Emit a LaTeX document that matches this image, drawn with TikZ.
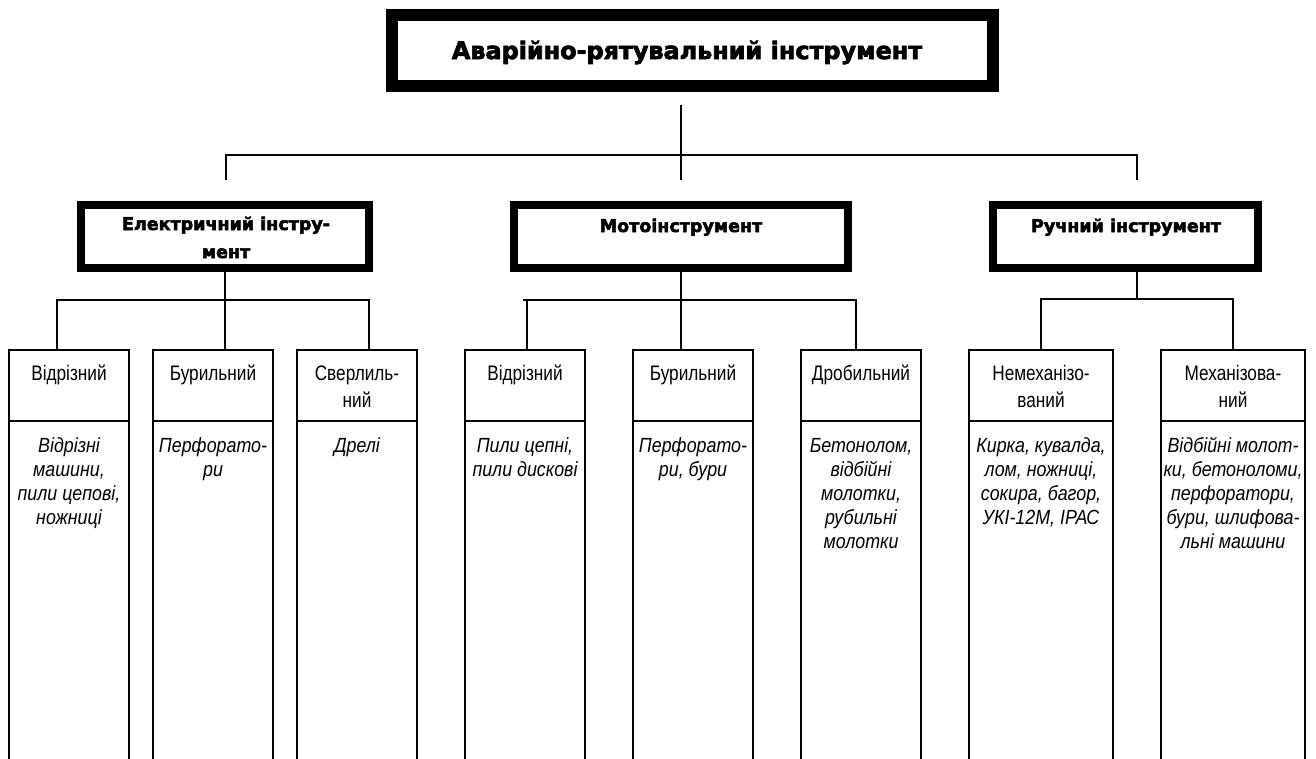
\documentclass[tikz,border=0pt]{standalone}
\usepackage{fontspec}
\setmainfont{Liberation Sans}
\newfontfamily\blk{DejaVu Sans Bold}[FakeBold=3]
\newfontfamily\nrw{Liberation Sans}[FakeStretch=0.82]
\newfontfamily\nrwi{Liberation Sans}[FakeStretch=0.87]
\begin{document}
\begin{tikzpicture}[x=1pt,y=-1pt,
  bigbox/.style={draw,line width=12pt,inner sep=0pt,minimum width=601pt,minimum height=71pt},
  midbox/.style={draw,line width=8pt,inner sep=0pt,minimum height=63pt},
  colhead/.style={draw,line width=1.6pt,inner sep=0pt,minimum height=71pt},
  colbody/.style={draw,line width=1.6pt,inner sep=0pt,minimum height=400pt},
  link/.style={line width=1.8pt},
  toptext/.style={font=\blk\fontsize{23.9}{25}\selectfont,anchor=base,inner sep=0pt},
  midtext/.style={font=\blk\fontsize{17.5}{28}\selectfont,align=center,anchor=base,inner sep=0pt},
  headtext/.style={font=\nrw\fontsize{21}{27}\selectfont,align=center,anchor=base,inner sep=0pt},
  bodytext/.style={font=\nrwi\itshape\fontsize{20.5}{24}\selectfont,align=center,anchor=base,inner sep=0pt}]
\useasboundingbox (0,0) rectangle (1316,758);
\fill[white] (0,0) rectangle (1316,758);
% top
\node[bigbox] (top) at (692.5,50.5) {};
\node[toptext] (toptxt) at (687,59) {Аварійно-рятувальний інструмент};
% middle boxes
\node[midbox,minimum width=288pt] (el) at (225,236.5) {};
\node[midtext] (elt) at (226,258) {Електричний інстру-\\мент};
\node[midbox,minimum width=334pt] (mo) at (681,236.5) {};
\node[midtext] (mot) at (681,232) {Мотоінструмент};
\node[midbox,minimum width=265pt] (ru) at (1125.5,236.5) {};
\node[midtext] (rut) at (1126,232) {Ручний інструмент};
% columns: electric
\node[colhead,minimum width=120pt] (e1h) at (69,385.5) {};
\node[colbody,minimum width=120pt] (e1b) at (69,621) {};
\node[headtext] (e1ht) at (69,380.5) {Відрізний};
\node[bodytext] (e1bt) at (69,524) {Відрізні\\машини,\\пили цепові,\\ножниці};
\node[colhead,minimum width=120pt] (e2h) at (213,385.5) {};
\node[colbody,minimum width=120pt] (e2b) at (213,621) {};
\node[headtext] (e2ht) at (213,380.5) {Бурильний};
\node[bodytext] (e2bt) at (213,476) {Перфорато-\\ри};
\node[colhead,minimum width=120pt] (e3h) at (357,385.5) {};
\node[colbody,minimum width=120pt] (e3b) at (357,621) {};
\node[headtext] (e3ht) at (357,407.5) {Сверлиль-\\ний};
\node[bodytext] (e3bt) at (357,452) {Дрелі};
% columns: moto
\node[colhead,minimum width=120pt] (m1h) at (525,385.5) {};
\node[colbody,minimum width=120pt] (m1b) at (525,621) {};
\node[headtext] (m1ht) at (525,380.5) {Відрізний};
\node[bodytext] (m1bt) at (525,476) {Пили цепні,\\пили дискові};
\node[colhead,minimum width=120pt] (m2h) at (693,385.5) {};
\node[colbody,minimum width=120pt] (m2b) at (693,621) {};
\node[headtext] (m2ht) at (693,380.5) {Бурильний};
\node[bodytext] (m2bt) at (693,476) {Перфорато-\\ри, бури};
\node[colhead,minimum width=120pt] (m3h) at (861,385.5) {};
\node[colbody,minimum width=120pt] (m3b) at (861,621) {};
\node[headtext] (m3ht) at (861,380.5) {Дробильний};
\node[bodytext] (m3bt) at (861,548) {Бетонолом,\\відбійні\\молотки,\\рубильні\\молотки};
% columns: hand
\node[colhead,minimum width=144pt] (r1h) at (1041,385.5) {};
\node[colbody,minimum width=144pt] (r1b) at (1041,621) {};
\node[headtext] (r1ht) at (1041,407.5) {Немеханізо-\\ваний};
\node[bodytext] (r1bt) at (1041,524) {Кирка, кувалда,\\лом, ножниці,\\сокира, багор,\\УКІ-12М, ІРАС};
\node[colhead,minimum width=144pt] (r2h) at (1233,385.5) {};
\node[colbody,minimum width=144pt] (r2b) at (1233,621) {};
\node[headtext] (r2ht) at (1233,407.5) {Механізова-\\ний};
\node[bodytext] (r2bt) at (1233,548) {Відбійні молот-\\ки, бетоноломи,\\перфоратори,\\бури, шлифова-\\льні машини};
% connectors: top level
\coordinate (t1) at (681,105);
\coordinate (t2) at (681,180);
\coordinate (tl) at (226,155);
\coordinate (tr) at (1137,155);
\coordinate (tlb) at (226,180);
\coordinate (trb) at (1137,180);
\draw[link] (t1) -- (t2);
\draw[link] (tlb) -- (tl) -- (tr) -- (trb);
% electric
\coordinate (el1) at (57,300);
\coordinate (er1) at (369,300);
\draw[link] (el.south) -- (el.south |- e2h.north);
\draw[link] (el1 |- e1h.north) -- (el1) -- (er1) -- (er1 |- e3h.north);
% moto
\coordinate (ml0) at (523,300);
\coordinate (ml1) at (527,300);
\coordinate (mr1) at (856,300);
\draw[link] (mo.south) -- (mo.south |- m2h.north);
\draw[link] (ml1 |- m1h.north) -- (ml1);
\draw[link] (ml0) -- (mr1) -- (mr1 |- m3h.north);
% hand
\coordinate (rj) at (1137,299);
\coordinate (rjt) at (1137,272);
\draw[link] (rjt) -- (rj);
\draw[link] (r1h.north) -- (r1h.north |- rj) -- (r2h.north |- rj) -- (r2h.north);
\end{tikzpicture}
\end{document}
